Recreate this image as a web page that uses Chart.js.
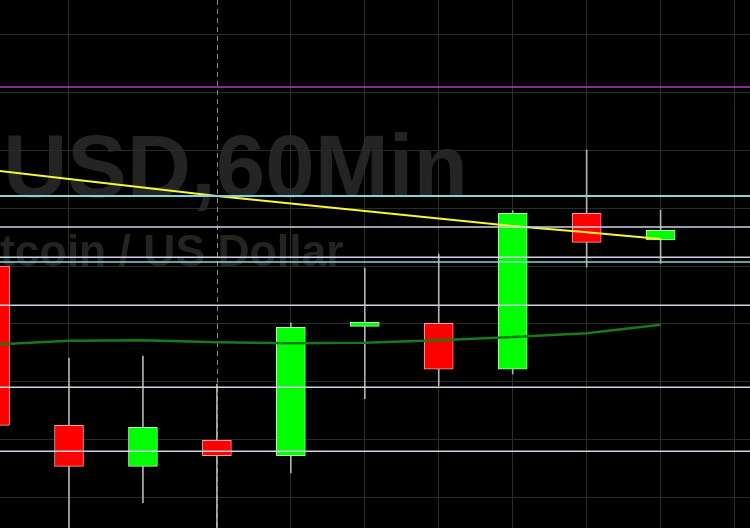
<!DOCTYPE html>
<html>
<head>
<meta charset="utf-8">
<script src="https://cdn.jsdelivr.net/npm/chart.js@4.4.0/dist/chart.umd.min.js"></script>
<style>
  html, body { margin: 0; padding: 0; background: #000; }
  #wrap { width: 750px; height: 528px; overflow: hidden; }
</style>
</head>
<body>
<div id="wrap"><canvas id="candles" width="750" height="528"></canvas></div>
<script>
// hourly candles, index 0 is the one cut off on the left edge
var candleIdx = [0, 1, 2, 3, 4, 5, 6, 7, 8, 9];
var opens  = [9400.0, 9262.1, 9226.6, 9249.1, 9235.8, 9347.8, 9350.4, 9310.6, 9445.6, 9422.5];
var highs  = [9410.0, 9320.3, 9322.1, 9297.8, 9350.6, 9398.3, 9410.4, 9447.9, 9500.4, 9448.5];
var lows   = [9250.0, 9160.0, 9195.1, 9160.0, 9220.8, 9285.1, 9296.4, 9306.5, 9399.1, 9402.3];
var closes = [9262.1, 9226.6, 9260.3, 9235.8, 9346.9, 9351.3, 9310.6, 9445.6, 9420.5, 9430.9];

// moving averages
var slowMA = [9482.8, 9475.3, 9468.0, 9460.6, 9454.1, 9447.6, 9441.1, 9434.6, 9429.2, 9423.4];
var fastMA = [9332.0, 9335.3, 9335.7, 9333.9, 9333.1, 9333.6, 9335.7, 9338.5, 9341.7, 9349.2];

// horizontal support / resistance levels
var levelValues = [9555.0, 9460.6, 9433.8, 9407.5, 9403.5, 9366.0, 9295.0, 9239.6];
var levelColors = ['#ad40bd', '#86d3e0', '#cdd3e2', '#cdd3e2', '#86d3e0', '#cdd3e2', '#cdd3e2', '#cdd3e2'];

// grid
var priceGrid = [9200, 9250, 9300, 9350, 9400, 9450, 9500, 9550, 9600];
var timeGrid = [1, 3, 4, 5, 6, 7, 8, 9, 10];
var sessionBreaks = [3];

var xMin = 0.067, xMax = 10.209;
var yMin = 9173.2, yMax = 9630.3;

var UP = '#00ff00', DOWN = '#ff0000';

var bodyColors = [], bodyBorders = [];
for (var i = 0; i < candleIdx.length; i++) {
    var up = closes[i] >= opens[i];
    bodyColors.push(up ? UP : DOWN);
    bodyBorders.push(up ? '#a8ffa8' : '#ff9c9c');
}

var datasets = [];

// level lines go on top of everything
levelValues.forEach(function (v, i) {
    datasets.push({
        type: 'line',
        data: [{x: xMin, y: v}, {x: xMax, y: v}],
        borderColor: levelColors[i],
        borderWidth: i == 1 ? 2 : 1.5,
        pointRadius: 0,
        order: 1
    });
});

datasets.push({
    type: 'line',
    data: candleIdx.map(function (k, i) { return {x: k, y: slowMA[i]}; }),
    borderColor: '#f6f633',
    borderWidth: 2,
    pointRadius: 0,
    tension: 0,
    order: 2
});
datasets.push({
    type: 'line',
    data: candleIdx.map(function (k, i) { return {x: k, y: fastMA[i]}; }),
    borderColor: '#177a17',
    borderWidth: 2.5,
    pointRadius: 0,
    tension: 0,
    order: 2
});

// candle bodies
datasets.push({
    type: 'bar',
    data: candleIdx.map(function (k, i) { return {x: k, y: [opens[i], closes[i]]}; }),
    backgroundColor: bodyColors,
    borderColor: bodyBorders,
    borderWidth: 1,
    borderSkipped: false,
    barThickness: 29,
    grouped: false,
    order: 4
});
// wicks
datasets.push({
    type: 'bar',
    data: candleIdx.map(function (k, i) { return {x: k, y: [lows[i], highs[i]]}; }),
    backgroundColor: '#b0b0b0',
    borderWidth: 0,
    barThickness: 1,
    grouped: false,
    order: 5
});

var backdrop = {
    id: 'backdrop',
    beforeDraw: function (chart) {
        var c = chart.ctx;
        c.save();
        c.fillStyle = '#000';
        c.fillRect(0, 0, chart.width, chart.height);
        c.fillStyle = '#242424';
        c.textAlign = 'center';
        c.textBaseline = 'alphabetic';
        c.font = 'bold 89px "Liberation Sans", Arial, sans-serif';
        c.fillText('BTCUSD,60Min', 144, 197);
        c.font = 'bold 44.5px "Liberation Sans", Arial, sans-serif';
        c.fillText('Bitcoin / US Dollar', 149.5, 266);
        c.restore();
    },
    beforeDatasetsDraw: function (chart) {
        var c = chart.ctx, a = chart.chartArea, xs = chart.scales.x;
        c.save();
        c.strokeStyle = '#8a8a8a';
        c.lineWidth = 1;
        c.setLineDash([5, 4]);
        sessionBreaks.forEach(function (k) {
            var px = Math.round(xs.getPixelForValue(k)) + 0.5;
            c.beginPath();
            c.moveTo(px, a.top);
            c.lineTo(px, a.bottom);
            c.stroke();
        });
        c.restore();
    }
};

new Chart(document.getElementById('candles').getContext('2d'), {
    type: 'bar',
    data: { datasets: datasets },
    options: {
        responsive: false,
        animation: false,
        layout: { padding: 0 },
        plugins: { legend: { display: false }, tooltip: { enabled: false } },
        scales: {
            x: {
                type: 'linear',
                min: xMin,
                max: xMax,
                offset: false,
                ticks: { display: false },
                grid: { color: '#2c2c2c', drawTicks: false, offset: false },
                border: { display: false },
                afterBuildTicks: function (s) {
                    s.ticks = timeGrid.filter(function (k) { return sessionBreaks.indexOf(k) < 0; })
                        .map(function (k) { return {value: k}; });
                }
            },
            y: {
                min: yMin,
                max: yMax,
                ticks: { display: false },
                grid: { color: '#2a2a2a', drawTicks: false },
                border: { display: false },
                afterBuildTicks: function (s) {
                    s.ticks = priceGrid.map(function (v) { return {value: v}; });
                }
            }
        }
    },
    plugins: [backdrop]
});
</script>
</body>
</html>
